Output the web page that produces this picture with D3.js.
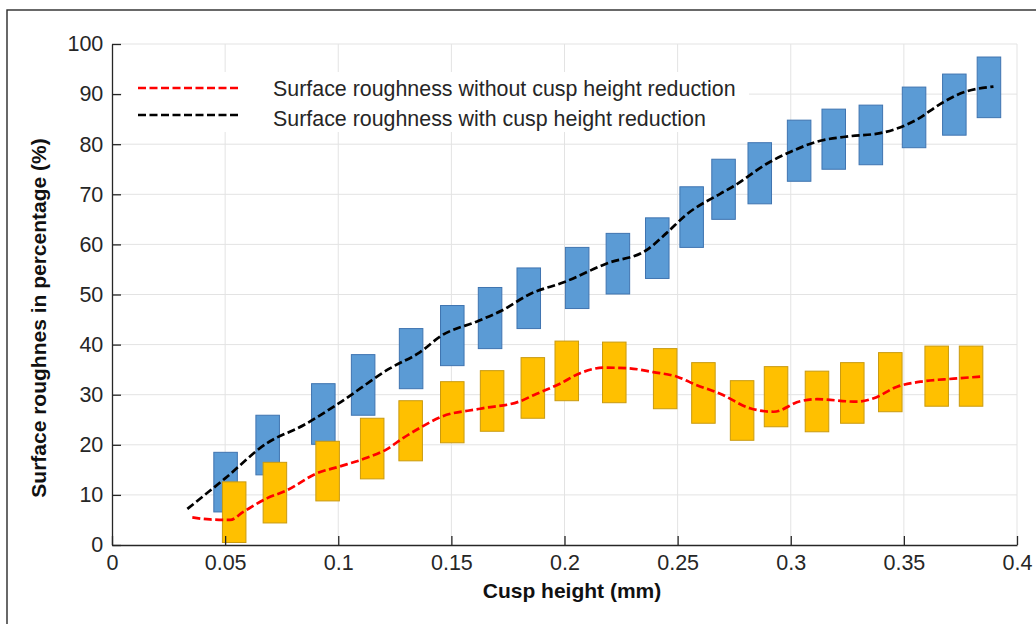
<!DOCTYPE html>
<html>
<head>
<meta charset="utf-8">
<script src="https://cdn.jsdelivr.net/npm/d3@7"></script>
<style>
  html, body { margin: 0; padding: 0; background: #fff; }
  svg { display: block; }
  text { font-family: "Liberation Sans", Arial, Helvetica, sans-serif; }
</style>
</head>
<body>
<svg id="chart" width="1036" height="624"></svg>
<script>
// ---------------- data ----------------
const xTicks = [0, 0.05, 0.1, 0.15, 0.2, 0.25, 0.3, 0.35, 0.4];
const xTickLabels = ["0", "0.05", "0.1", "0.15", "0.2", "0.25", "0.3", "0.35", "0.4"];
const yTicks = [0, 10, 20, 30, 40, 50, 60, 70, 80, 90, 100];
const yTickLabels = ["0", "10", "20", "30", "40", "50", "60", "70", "80", "90", "100"];

// Blue boxes (with cusp height reduction)
const blueX    = [0.0502, 0.0688, 0.0934, 0.111, 0.1322, 0.1504, 0.1671, 0.1842, 0.2056, 0.2236, 0.241, 0.2562, 0.2703, 0.2863, 0.3037, 0.319, 0.3354, 0.3545, 0.3723, 0.3876];
const blueHigh = [18.5, 25.9, 32.2, 38.0, 43.2, 47.8, 51.4, 55.3, 59.4, 62.2, 65.3, 71.5, 77.0, 80.3, 84.8, 87.0, 87.8, 91.4, 94.0, 97.4];
const blueLow  = [6.6, 14.0, 20.1, 25.9, 31.2, 35.8, 39.2, 43.2, 47.2, 50.1, 53.2, 59.4, 65.0, 68.1, 72.6, 75.0, 75.9, 79.3, 81.8, 85.3];

// Yellow boxes (without cusp height reduction)
const yellowX    = [0.054, 0.072, 0.0953, 0.115, 0.132, 0.1504, 0.168, 0.186, 0.201, 0.222, 0.2445, 0.2614, 0.2785, 0.2935, 0.3116, 0.3272, 0.344, 0.3645, 0.3797];
const yellowHigh = [12.6, 16.5, 20.7, 25.3, 28.8, 32.6, 34.8, 37.4, 40.7, 40.5, 39.2, 36.4, 32.8, 35.6, 34.7, 36.4, 38.4, 39.7, 39.7];
const yellowLow  = [0.5, 4.4, 8.8, 13.2, 16.8, 20.4, 22.7, 25.3, 28.8, 28.4, 27.2, 24.3, 20.9, 23.6, 22.6, 24.3, 26.6, 27.7, 27.7];

// Dashed trend lines
const withX = [0.0333, 0.05, 0.0684, 0.085, 0.1, 0.123, 0.1362, 0.1453, 0.1618, 0.1723, 0.1848, 0.2, 0.2187, 0.2364, 0.2452, 0.254, 0.2688, 0.2747, 0.2894, 0.3, 0.3116, 0.3263, 0.3395, 0.3557, 0.366, 0.3749, 0.3896];
const withY = [7.2, 13.3, 20.3, 24.0, 28.2, 35.3, 38.5, 41.7, 44.7, 46.8, 50.1, 52.5, 56.2, 58.9, 62.3, 66.0, 70.1, 71.6, 76.1, 78.5, 80.5, 81.6, 82.2, 84.9, 88.0, 90.1, 91.5];

const withoutX = [0.0355, 0.0433, 0.0522, 0.058, 0.0684, 0.0772, 0.0905, 0.1008, 0.1126, 0.1214, 0.1288, 0.1362, 0.145, 0.1627, 0.1804, 0.1863, 0.198, 0.2069, 0.2172, 0.2276, 0.2393, 0.2497, 0.2585, 0.2688, 0.282, 0.2924, 0.3042, 0.3116, 0.3293, 0.3367, 0.347, 0.3573, 0.372, 0.3837];
const withoutY = [5.5, 5.1, 5.0, 6.6, 9.3, 10.9, 14.3, 15.7, 17.4, 19.1, 21.4, 23.4, 25.5, 27.2, 28.7, 29.9, 32.2, 34.3, 35.4, 35.3, 34.5, 33.6, 31.9, 30.2, 27.3, 26.6, 28.7, 29.1, 28.6, 29.3, 31.6, 32.6, 33.2, 33.6];

const legendLabels = ["Surface roughness without cusp height reduction", "Surface roughness with cusp height reduction"];
const xTitle = "Cusp height (mm)";
const yTitle = "Surface roughnes in percentage (%)";

// ---------------- layout ----------------
const svg = d3.select("#chart");
const pLeft = 112, pRight = 1017, pTop = 44, pBottom = 545;
const x = d3.scaleLinear().domain([0, 0.4]).range([pLeft, pRight]);
const y = d3.scaleLinear().domain([0, 100]).range([pBottom, pTop]);
const boxW = x(0.0104) - x(0);

// outer frame
svg.append("rect").attr("x", 7).attr("y", 10).attr("width", 1200).attr("height", 1000)
  .attr("fill", "none").attr("stroke", "#2a2a2a").attr("stroke-width", 1.4);

// grid
const grid = svg.append("g");
grid.selectAll("line.v").data(xTicks.slice(1)).join("line")
  .attr("x1", d => x(d)).attr("x2", d => x(d)).attr("y1", pTop).attr("y2", pBottom)
  .attr("stroke", "#e3e3e3").attr("stroke-width", 1);
grid.selectAll("line.h").data(yTicks.slice(1)).join("line")
  .attr("x1", pLeft).attr("x2", pRight).attr("y1", d => y(d)).attr("y2", d => y(d))
  .attr("stroke", "#e3e3e3").attr("stroke-width", 1);

// legend background (covers grid)
svg.append("rect").attr("x", 122).attr("y", 72).attr("width", 627).attr("height", 60).attr("fill", "#fff");

// boxes
svg.append("g").selectAll("rect").data(blueX.map((d, i) => ({x: d, lo: blueLow[i], hi: blueHigh[i]}))).join("rect")
  .attr("x", d => x(d.x) - boxW / 2).attr("width", boxW)
  .attr("y", d => y(d.hi)).attr("height", d => y(d.lo) - y(d.hi))
  .attr("fill", "#5b9bd5").attr("stroke", "#3f74b0").attr("stroke-width", 1);
svg.append("g").selectAll("rect").data(yellowX.map((d, i) => ({x: d, lo: yellowLow[i], hi: yellowHigh[i]}))).join("rect")
  .attr("x", d => x(d.x) - boxW / 2).attr("width", boxW)
  .attr("y", d => y(d.hi)).attr("height", d => y(d.lo) - y(d.hi))
  .attr("fill", "#ffc000").attr("stroke", "#c99a10").attr("stroke-width", 1);

// lines
const line = d3.line().x(d => x(d[0])).y(d => y(d[1])).curve(d3.curveMonotoneX);
svg.append("path").datum(withoutX.map((d, i) => [d, withoutY[i]]))
  .attr("d", line).attr("fill", "none").attr("stroke", "#ff0000")
  .attr("stroke-width", 2.7).attr("stroke-dasharray", "8,3.5");
svg.append("path").datum(withX.map((d, i) => [d, withY[i]]))
  .attr("d", line).attr("fill", "none").attr("stroke", "#000")
  .attr("stroke-width", 2.7).attr("stroke-dasharray", "8,3.5");

// axes
const xAxis = d3.axisBottom(x).tickValues(xTicks).tickFormat((d, i) => xTickLabels[i])
  .tickSizeInner(-9).tickSizeOuter(0).tickPadding(10);
const yAxis = d3.axisLeft(y).tickValues(yTicks).tickFormat((d, i) => yTickLabels[i])
  .tickSizeInner(-9).tickSizeOuter(0).tickPadding(8.7);
const gx = svg.append("g").attr("transform", `translate(0,${pBottom})`).call(xAxis);
const gy = svg.append("g").attr("transform", `translate(${pLeft},0)`).call(yAxis);
[gx, gy].forEach(g => {
  g.select(".domain").attr("stroke", "#262626").attr("stroke-width", 1.3);
  g.selectAll(".tick line").attr("stroke", "#262626").attr("stroke-width", 1.3);
  g.selectAll(".tick text").attr("fill", "#262626").style("font-size", "21.5px")
    .style("font-family", '"Liberation Sans", Arial, sans-serif');
});

// titles
svg.append("text").attr("x", 572).attr("y", 598).attr("text-anchor", "middle")
  .style("font-size", "21px").style("font-weight", "bold").attr("fill", "#111").text(xTitle);
svg.append("text").attr("transform", "translate(46,318) rotate(-90)").attr("text-anchor", "middle")
  .style("font-size", "21px").style("font-weight", "bold").attr("fill", "#111").text(yTitle);

// legend
const leg = svg.append("g");
const legColors = ["#ff0000", "#000"];
const legLineY = [88, 115];
const legTextY = [96, 126];
legendLabels.forEach((lab, i) => {
  leg.append("line").attr("x1", 138).attr("x2", 240).attr("y1", legLineY[i]).attr("y2", legLineY[i])
    .attr("stroke", legColors[i]).attr("stroke-width", 2.7).attr("stroke-dasharray", "8,3.5");
  leg.append("text").attr("x", 273).attr("y", legTextY[i]).attr("fill", "#262626")
    .style("font-size", "21.4px").text(lab);
});
</script>
</body>
</html>
